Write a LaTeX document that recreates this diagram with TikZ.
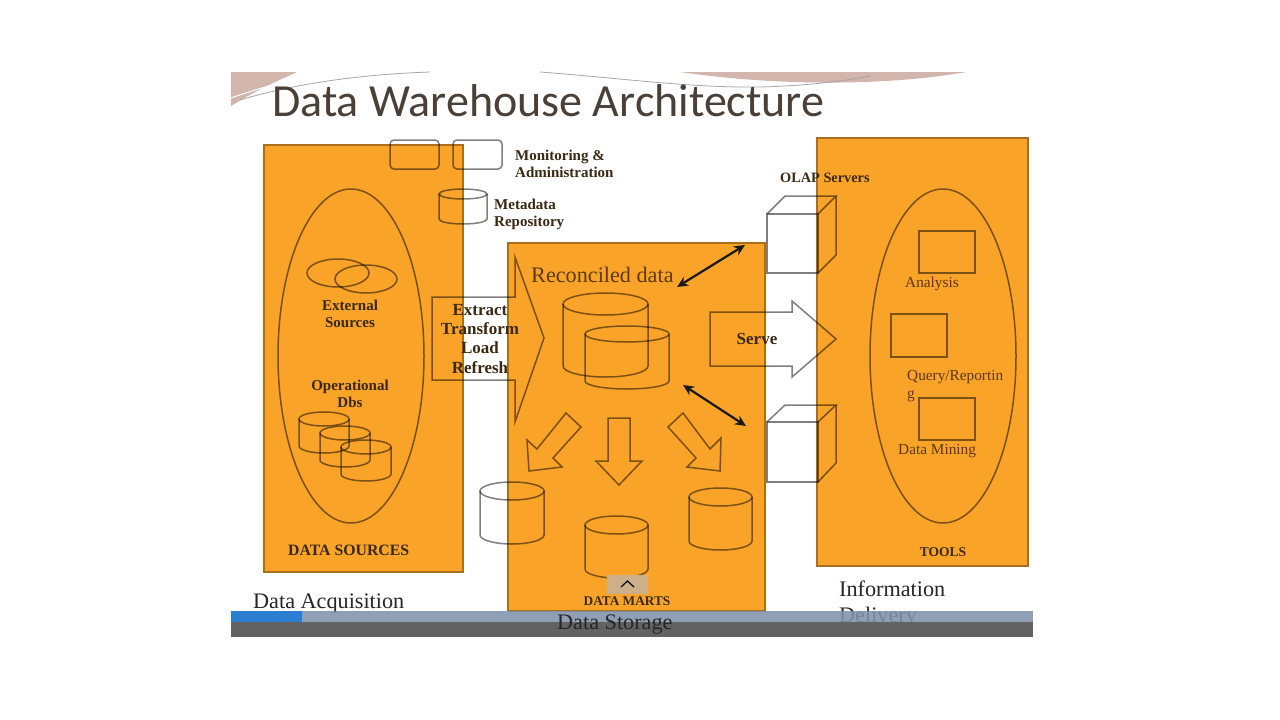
\documentclass[tikz,border=0pt]{standalone}
\usepackage{fontspec}
\setmainfont{Liberation Serif}
\newfontfamily\titlefont{Carlito}
\usetikzlibrary{arrows.meta}
\definecolor{boxorange}{HTML}{F9A328}
\definecolor{inkbrown}{HTML}{3A2A14}
\definecolor{softbrown}{HTML}{5E3A0C}
\definecolor{titlegrey}{HTML}{4A4038}
\definecolor{swoosh}{HTML}{D2B5AC}
\definecolor{barslate}{HTML}{8093AD}
\definecolor{barblue}{HTML}{2A7FD0}
\definecolor{bardark}{HTML}{626262}
\definecolor{buttontan}{HTML}{CDB08A}
\tikzset{
	panel/.style={fill=boxorange, draw=boxorange!68!black, line width=2pt},
	outline/.style={draw=black, draw opacity=.5, line width=1.5pt},
	tag/.style={font=\bfseries\fontsize{15}{16.5}\selectfont, color=inkbrown, inner sep=0pt, align=left, anchor=base west},
	ctag/.style={tag, align=center, anchor=base},
	plaintag/.style={font=\fontsize{15.3}{18}\selectfont, color=softbrown, inner sep=0pt, align=left, anchor=base west},
	bigtag/.style={font=\fontsize{22.2}{26}\selectfont, color=black!85, inner sep=0pt, align=left, anchor=base west},
	biarrow/.style={color=black!90, line width=2.2pt, {Stealth[length=11pt,width=10pt]}-{Stealth[length=11pt,width=10pt]}}
}
% cilindro: centro x, y coperchio, raggio x, raggio y, y fondo
\newcommand{\drum}[5]{
	\draw[outline] (#1-#3,#2) -- (#1-#3,#5) arc[start angle=180, end angle=360, x radius=#3, y radius=-#4] -- (#1+#3,#2);
	\draw[outline] (#1,#2) ellipse[x radius=#3, y radius=#4];
}
\begin{document}
\begin{tikzpicture}[x=1pt, y=-1pt]
		\useasboundingbox (0,0) rectangle (1280,720);
		\fill[color=white] (0,0) rectangle (1280,720);
		
		% decoro in alto
		\fill[color=swoosh] (231,72) -- (297,72) .. controls (270,84) and (250,94) .. (231,106) -- cycle;
		\fill[color=swoosh] (680,72) -- (966,72) .. controls (900,84) and (790,88) .. (680,72) -- cycle;
		\draw[color=white, line width=1pt] (231,98) .. controls (270,84) and (300,78) .. (330,75);
		\draw[color=black!35, line width=.8pt] (240,100) .. controls (300,82) and (370,74) .. (430,72);
		\draw[color=black!35, line width=.8pt] (540,72) .. controls (620,78) and (690,88) .. (760,87) .. controls (800,86) and (840,82) .. (870,76);
		\node[font=\titlefont\fontsize{46}{46}\selectfont, color=titlegrey, inner sep=0pt, anchor=base west] (title) at (272,116) {Data Warehouse Architecture};
		
		% riquadri
		\draw[panel] (264,145) rectangle (463,572);
		\draw[panel] (508,243) rectangle (765,611);
		\draw[panel] (817,138) rectangle (1028,566);
		
		% sorgenti
		\draw[outline] (351,356) ellipse[x radius=73, y radius=167];
		\draw[outline] (338,273) ellipse[x radius=31, y radius=14];
		\draw[outline] (366,279) ellipse[x radius=31, y radius=14];
		\drum{324}{419}{25}{7}{446}
		\drum{345}{433}{25}{7}{460}
		\drum{366}{447}{25}{7}{474}
		\node[ctag] (ext) at (350,327) {External\\Sources};
		\node[ctag] (opdb) at (350,407) {Operational\\Dbs};
		\node[tag, font=\bfseries\fontsize{15.8}{18}\selectfont] (dsrc) at (288,555) {DATA SOURCES};
		
		% monitoraggio e metadati
		\draw[outline, rounded corners=4pt] (390,140) rectangle (439,169);
		\draw[outline, rounded corners=4pt] (453,140) rectangle (502,169);
		\node[tag] (mon) at (515,177) {Monitoring \&\\Administration};
		\drum{463}{194}{24}{5}{219}
		\node[tag] (meta) at (494,226) {Metadata\\Repository};
		
		% frecce grandi
		\draw[outline] (432,297) -- (515,297) -- (515,257) -- (544,338) -- (515,422) -- (515,380) -- (432,380) -- cycle;
		\node[ctag, font=\bfseries\fontsize{17}{19.3}\selectfont] (etl) at (480,373) {Extract\\Transform\\Load\\Refresh};
		\draw[outline] (710,312) -- (792,312) -- (792,301) -- (836,339) -- (792,377) -- (792,366) -- (710,366) -- cycle;
		\node[ctag, font=\bfseries\fontsize{17}{18}\selectfont] (serve) at (757,344) {Serve};
		
		% dati riconciliati
		\node[bigtag, color=softbrown] (recon) at (531,282) {Reconciled data};
		\drum{605.5}{304}{42.5}{11}{366}
		\drum{627}{334}{42}{8}{381}
		
		% frecce piccole
		\draw[outline] (566,413) -- (581,427) -- (553,458) -- (562,467) -- (529,471) -- (527,440) -- (537,449) -- cycle;
		\draw[outline] (608,418) -- (630,418) -- (630,461) -- (642,461) -- (619,485) -- (596,461) -- (608,461) -- cycle;
		\draw[outline] (683,413) -- (668,427) -- (696,458) -- (687,467) -- (720,471) -- (721,438) -- (710,449) -- cycle;
		
		% data mart
		\drum{512}{491}{32}{9}{535}
		\drum{616.5}{525}{31.5}{9}{569}
		\drum{720.5}{497}{31.5}{9}{541}
		\node[ctag, font=\bfseries\fontsize{13.3}{16}\selectfont] (marts) at (627,605) {DATA MARTS};
		
		% cubi OLAP
		\draw[outline] (767,214) rectangle (818,273);
		\draw[outline] (767,214) -- (785,196) -- (836,196) -- (818,214);
		\draw[outline] (836,196) -- (836,255) -- (818,273);
		\node[tag, font=\bfseries\fontsize{14.3}{16}\selectfont] (olap) at (780,182) {OLAP Servers};
		\draw[outline] (767,422) rectangle (818,482);
		\draw[outline] (767,422) -- (785,405) -- (836,405) -- (818,422);
		\draw[outline] (836,405) -- (836,463) -- (818,482);
		
		\coordinate (reconA) at (677,287);
		\coordinate (olapA) at (745,245);
		\coordinate (reconB) at (683,385);
		\coordinate (olapB) at (746,426);
		\draw[biarrow] (reconA) -- (olapA);
		\draw[biarrow] (reconB) -- (olapB);
		
		% strumenti
		\draw[outline] (943,356) ellipse[x radius=73, y radius=167];
		\draw[outline] (919,231) rectangle (975,273);
		\draw[outline] (891,314) rectangle (947,357);
		\draw[outline] (919,398) rectangle (975,440);
		\node[plaintag] (ana) at (905,287) {Analysis};
		\node[plaintag] (query) at (907,398) {Query/Reportin\\g};
		\node[plaintag] (mine) at (898,454) {Data Mining};
		\node[ctag, font=\bfseries\fontsize{13.5}{16}\selectfont] (tools) at (943,556) {TOOLS};
		
		% testi sotto
		\node[bigtag] (acq) at (253,608) {Data Acquisition};
		\node[bigtag] (info) at (839,622) {Information\\Delivery};
		
		% barra
		\fill[color=barslate, opacity=.88] (231,611) rectangle (1033,622);
		\fill[color=bardark] (231,622) rectangle (1033,637);
		\fill[color=barblue] (231,611) rectangle (302,622);
		\node[bigtag] (store) at (557,629) {Data Storage};
		
		% bottone
		\fill[color=buttontan] (607,575) rectangle (648,594);
		\coordinate (chevL) at (621,587);
		\coordinate (chevT) at (627.5,581);
		\coordinate (chevR) at (634,587);
		\draw[color=black, line width=1.2pt] (chevL) -- (chevT) -- (chevR);
	\end{tikzpicture}
\end{document}
